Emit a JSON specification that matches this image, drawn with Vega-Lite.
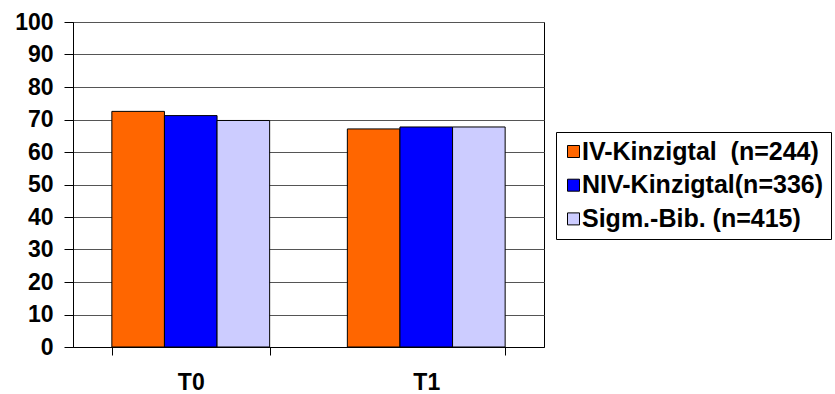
{
  "$schema": "https://vega.github.io/schema/vega-lite/v6.json",
  "width": 471,
  "height": 325,
  "autosize": {"type": "none"},
  "padding": {"left": 73, "top": 22, "right": 291, "bottom": 47},
  "background": "white",
  "config": {
    "view": {"stroke": "black", "strokeWidth": 1},
    "font": "Liberation Sans"
  },
  "data": {
    "values": [
      {"time": "T0", "group": "IV-Kinzigtal \u00a0(n=244)", "value": 72.5},
      {"time": "T0", "group": "NIV-Kinzigtal(n=336)", "value": 71.2},
      {"time": "T0", "group": "Sigm.-Bib. (n=415)", "value": 69.7},
      {"time": "T1", "group": "IV-Kinzigtal \u00a0(n=244)", "value": 67.1},
      {"time": "T1", "group": "NIV-Kinzigtal(n=336)", "value": 67.7},
      {"time": "T1", "group": "Sigm.-Bib. (n=415)", "value": 67.7}
    ]
  },
  "mark": {"type": "bar", "stroke": "black", "strokeWidth": 1},
  "encoding": {
    "x": {
      "field": "time",
      "type": "nominal",
      "scale": {"paddingInner": 0.33, "paddingOuter": 0.165},
      "axis": {
        "title": null,
        "labelAngle": 0,
        "tickBand": "extent",
        "tickSize": 8,
        "tickColor": "black",
        "domainColor": "black",
        "labelFontSize": 23,
        "labelFontWeight": "bold",
        "labelColor": "black",
        "labelPadding": 16,
        "grid": false
      }
    },
    "xOffset": {
      "field": "group",
      "type": "nominal",
      "sort": ["IV-Kinzigtal \u00a0(n=244)", "NIV-Kinzigtal(n=336)", "Sigm.-Bib. (n=415)"],
      "scale": {"paddingInner": 0, "paddingOuter": 0}
    },
    "y": {
      "field": "value",
      "type": "quantitative",
      "scale": {"domain": [0, 100], "nice": false},
      "axis": {
        "title": null,
        "values": [0, 10, 20, 30, 40, 50, 60, 70, 80, 90, 100],
        "tickSize": 9,
        "tickColor": "black",
        "domainColor": "black",
        "gridColor": "#555555",
        "gridOpacity": 1,
        "labelFontSize": 23,
        "labelFontWeight": "bold",
        "labelColor": "black",
        "labelPadding": 11
      }
    },
    "color": {
      "field": "group",
      "type": "nominal",
      "scale": {
        "domain": ["IV-Kinzigtal \u00a0(n=244)", "NIV-Kinzigtal(n=336)", "Sigm.-Bib. (n=415)"],
        "range": ["#FF6600", "#0000FF", "#CCCCFF"]
      },
      "legend": {
        "title": null,
        "orient": "none",
        "legendX": 483,
        "legendY": 110,
        "strokeColor": "black",
        "fillColor": "white",
        "padding": 7,
        "labelFontSize": 25,
        "labelFontWeight": "bold",
        "labelColor": "black",
        "labelLimit": 400,
        "labelOffset": -4,
        "symbolOffset": -2,
        "symbolType": "square",
        "symbolSize": 144,
        "symbolStrokeColor": "black",
        "symbolStrokeWidth": 1,
        "rowPadding": 7.7
      }
    }
  }
}
